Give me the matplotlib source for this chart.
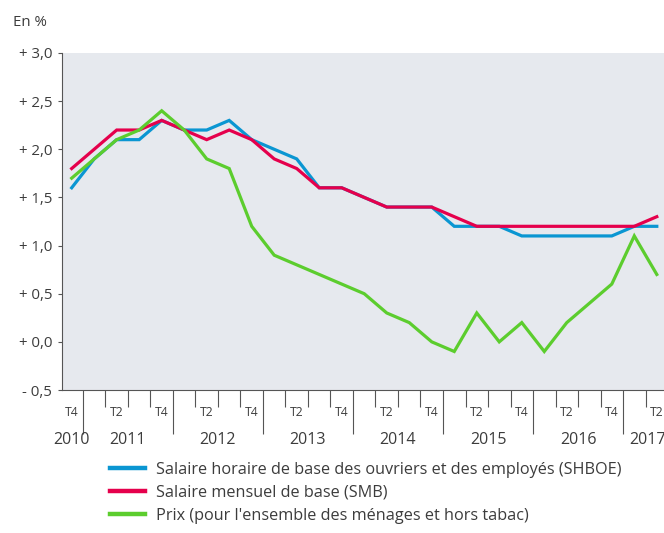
import matplotlib
matplotlib.use("Agg")
import matplotlib.pyplot as plt
import numpy as np

plt.rcParams['font.family'] = ['Open Sans', 'DejaVu Sans']

# Quarters from 2010 T4 to 2017 T2
quarters = ["2010T4", "2011T1", "2011T2", "2011T3", "2011T4",
            "2012T1", "2012T2", "2012T3", "2012T4",
            "2013T1", "2013T2", "2013T3", "2013T4",
            "2014T1", "2014T2", "2014T3", "2014T4",
            "2015T1", "2015T2", "2015T3", "2015T4",
            "2016T1", "2016T2", "2016T3", "2016T4",
            "2017T1", "2017T2"]
shboe = [1.6, 1.9, 2.1, 2.1, 2.3, 2.2, 2.2, 2.3, 2.1, 2.0, 1.9, 1.6, 1.6, 1.5,
         1.4, 1.4, 1.4, 1.2, 1.2, 1.2, 1.1, 1.1, 1.1, 1.1, 1.1, 1.2, 1.2]
smb = [1.8, 2.0, 2.2, 2.2, 2.3, 2.2, 2.1, 2.2, 2.1, 1.9, 1.8, 1.6, 1.6, 1.5,
       1.4, 1.4, 1.4, 1.3, 1.2, 1.2, 1.2, 1.2, 1.2, 1.2, 1.2, 1.2, 1.3]
prix = [1.7, 1.9, 2.1, 2.2, 2.4, 2.2, 1.9, 1.8, 1.2, 0.9, 0.8, 0.7, 0.6, 0.5,
        0.3, 0.2, 0.0, -0.1, 0.3, 0.0, 0.2, -0.1, 0.2, 0.4, 0.6, 1.1, 0.7]
series_labels = ["Salaire horaire de base des ouvriers et des employés (SHBOE)",
                 "Salaire mensuel de base (SMB)",
                 "Prix (pour l'ensemble des ménages et hors tabac)"]
yticks = [-0.5, 0.0, 0.5, 1.0, 1.5, 2.0, 2.5, 3.0]
ytick_labels = ["- 0,5", "+ 0,0", "+ 0,5", "+ 1,0", "+ 1,5", "+ 2,0", "+ 2,5", "+ 3,0"]
years = ["2010", "2011", "2012", "2013", "2014", "2015", "2016", "2017"]
year_pos = [0, 2.5, 6.5, 10.5, 14.5, 18.5, 22.5, 25.6]

colors = ["#0a96d2", "#e5004c", "#5ccd2e"]
txt = "#3c3c3c"
axc = "#555555"

fig = plt.figure(figsize=(6.64, 5.33), dpi=100)
W, H = 664, 533
ax = fig.add_axes([62 / W, 1 - 390 / H, 1 - 62 / W, (390 - 53) / H])
ax.set_facecolor("#e6e9ee")

x = np.arange(len(quarters))
lines = []
for vals, c, lab in zip([shboe, smb, prix], colors, series_labels):
    l, = ax.plot(x, vals, color=c, lw=2.3, label=lab, solid_joinstyle='miter')
    lines.append(l)

ax.set_xlim(-0.43, 26.32)
ax.set_ylim(-0.5, 3.0)

for s in ["top", "right"]:
    ax.spines[s].set_visible(False)
ax.spines["left"].set_color(axc)
ax.spines["bottom"].set_color(axc)
ax.spines["left"].set_linewidth(0.8)
ax.spines["bottom"].set_linewidth(0.8)

ax.set_yticks(yticks)
ax.set_yticklabels(ytick_labels, fontsize=10.8, color=txt)
ax.tick_params(axis='y', length=3, color=axc, pad=4, width=0.8)

# x ticks: quarter boundaries (minor), year boundaries (major)
qlabels = [q[4:] for q in quarters]
year_b = [i - 0.5 for i, q in enumerate(quarters) if q.endswith("T1")]
quarter_b = [i + 0.5 for i in range(len(quarters) - 1) if (i + 0.5) not in year_b]
ax.set_xticks(year_b)
ax.set_xticks(quarter_b, minor=True)
ax.set_xticklabels([])
ax.tick_params(axis='x', which='major', length=32, color=axc, width=0.8, direction='out')
ax.tick_params(axis='x', which='minor', length=12, color=axc, width=0.8, direction='out')

tr = ax.get_xaxis_transform()
for i, ql in enumerate(qlabels):
    if ql in ("T2", "T4"):
        ax.text(i, -0.066, ql, transform=tr, ha='center', va='center',
                fontsize=8.7, color=txt, clip_on=False)
for yp, yl in zip(year_pos, years):
    ax.text(yp, -0.148, yl, transform=tr, ha='center', va='center',
            fontsize=11.5, color=txt, clip_on=False)

fig.text(13 / W, 1 - 22 / H, "En %", fontsize=10.8, color=txt, ha='left', va='center')

leg = fig.legend(handles=lines, labels=series_labels, loc='upper left',
                 bbox_to_anchor=(110 / W, 1 - 462 / H), frameon=False,
                 fontsize=11.7, handlelength=2.15, handletextpad=0.65,
                 labelspacing=0.42, borderaxespad=0, borderpad=0)
for t in leg.get_texts():
    t.set_color(txt)
for h in leg.legend_handles:
    h.set_linewidth(3.2)

fig.savefig("out.png", dpi=100)
